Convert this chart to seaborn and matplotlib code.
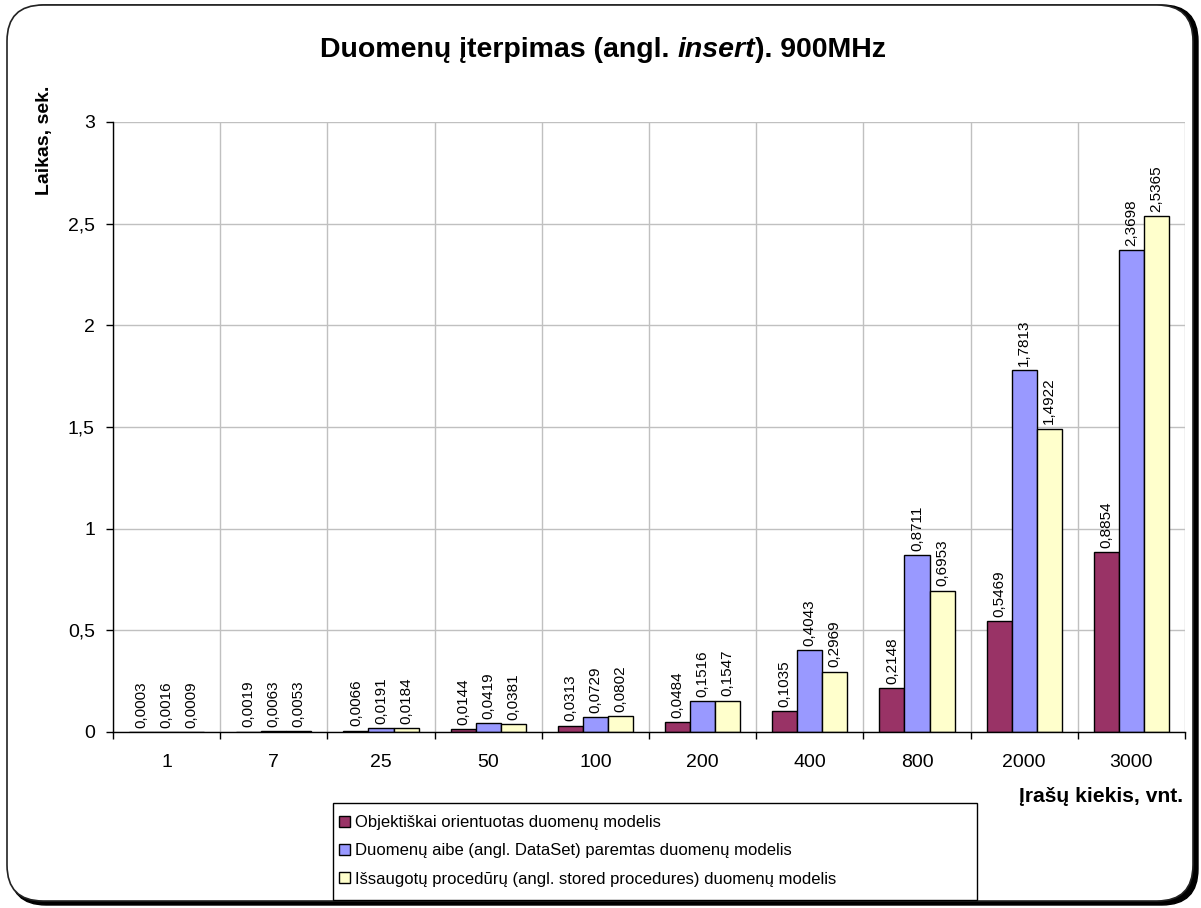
import matplotlib
matplotlib.use("Agg")
import matplotlib.pyplot as plt
from matplotlib.patches import FancyBboxPatch, Patch, Rectangle
from matplotlib.ticker import FixedLocator, FuncFormatter
import seaborn as sns
import pandas as pd

# Record counts (categories)
record_counts = ["1", "7", "25", "50", "100", "200", "400", "800", "2000", "3000"]

# Insert times in seconds for each data model
object_oriented = [0.0003, 0.0019, 0.0066, 0.0144, 0.0313, 0.0484, 0.1035, 0.2148, 0.5469, 0.8854]
dataset_based = [0.0016, 0.0063, 0.0191, 0.0419, 0.0729, 0.1516, 0.4043, 0.8711, 1.7813, 2.3698]
stored_procedures = [0.0009, 0.0053, 0.0184, 0.0381, 0.0802, 0.1547, 0.2969, 0.6953, 1.4922, 2.5365]

series_names = [
    "Objektiškai orientuotas duomenų modelis",
    "Duomenų aibe (angl. DataSet) paremtas duomenų modelis",
    "Išsaugotų procedūrų (angl. stored procedures) duomenų modelis",
]
series_colors = ["#993366", "#9999FF", "#FFFFCC"]

rows = []
for name, values in zip(series_names, [object_oriented, dataset_based, stored_procedures]):
    for cat, v in zip(record_counts, values):
        rows.append({"kiekis": cat, "laikas": v, "modelis": name})
df = pd.DataFrame(rows)

sns.set_theme(style="white")
plt.rcParams["font.family"] = ["Liberation Sans", "DejaVu Sans"]
for key in ["text.color", "axes.labelcolor", "xtick.color", "ytick.color"]:
    plt.rcParams[key] = "black"

W, H = 1201, 908
fig = plt.figure(figsize=(W / 100, H / 100), dpi=100)
fig.patch.set_facecolor("white")

# Rounded chart frame with a drop shadow
shadow = FancyBboxPatch((10 / W, 3 / H), (1188 / W), (900 / H),
                        boxstyle="round,pad=0,rounding_size=0.03",
                        transform=fig.transFigure, facecolor="black",
                        edgecolor="black", linewidth=1, mutation_aspect=W / H, zorder=0)
frame = FancyBboxPatch((7 / W, 7 / H), (1186 / W), (896 / H),
                       boxstyle="round,pad=0,rounding_size=0.03",
                       transform=fig.transFigure, facecolor="white",
                       edgecolor="#222222", linewidth=1.2, mutation_aspect=W / H, zorder=0.1)
# Legend box
legend_box = Rectangle((333 / W, 1 - 900 / H), (977 - 333) / W, (900 - 803) / H,
                       transform=fig.transFigure, facecolor="white",
                       edgecolor="black", linewidth=1, zorder=0.2)
fig.patches.extend([shadow, frame, legend_box])

ax = fig.add_axes([113 / W, 1 - 732 / H, (1185 - 113) / W, (732 - 122) / H])
ax.set_facecolor("none")
ax.set_zorder(2)

sns.barplot(data=df, x="kiekis", y="laikas", hue="modelis", order=record_counts,
            hue_order=series_names, palette=series_colors, width=0.7, gap=0,
            edgecolor="black", linewidth=1, saturation=1, ax=ax, legend=False,
            errorbar=None, zorder=3)

for cont, values in zip(ax.containers, [object_oriented, dataset_based, stored_procedures]):
    ax.bar_label(cont, labels=[f"{v:.4f}".replace(".", ",") for v in values],
                 rotation=90, padding=3, fontsize=11, color="black")

ax.set_xlim(-0.5, len(record_counts) - 0.5)
ax.set_ylim(0, 3)
ax.set_yticks([0, 0.5, 1, 1.5, 2, 2.5, 3])
ax.yaxis.set_major_formatter(FuncFormatter(lambda v, p: f"{v:g}".replace(".", ",")))
ax.xaxis.set_minor_locator(FixedLocator([i - 0.5 for i in range(len(record_counts) + 1)]))

ax.grid(axis="y", which="major", color="#C0C0C0", linewidth=1, zorder=0)
ax.grid(axis="x", which="minor", color="#C0C0C0", linewidth=1, zorder=0)
ax.grid(axis="x", which="major", visible=False)
ax.set_axisbelow(True)

for side in ["top", "right"]:
    ax.spines[side].set_visible(False)
for side in ["left", "bottom"]:
    ax.spines[side].set_color("black")
    ax.spines[side].set_linewidth(1)
    ax.spines[side].set_zorder(4)

ax.tick_params(axis="y", which="major", length=5, width=1, color="black",
               labelsize=14, pad=8, left=True, direction="out")
ax.tick_params(axis="x", which="major", length=0, labelsize=14, pad=16)
ax.tick_params(axis="x", which="minor", length=5, width=1, color="black",
               bottom=True, direction="out")
ax.set_xlabel("")
ax.set_ylabel("")

# Title with an italic word in the middle, laid out piece by piece
title_parts = [("Duomenų įterpimas (angl. ", "normal"), ("insert", "italic"), ("). 900MHz", "normal")]
renderer = fig.canvas.get_renderer()
texts = []
for s, style in title_parts:
    t = fig.text(0, 1 - 50 / H, s, ha="left", va="center", fontsize=20.5,
                 fontweight="bold", fontstyle=style)
    texts.append(t)
widths = [t.get_window_extent(renderer).width for t in texts]
x = 603 - sum(widths) / 2
for t, w in zip(texts, widths):
    t.set_x(x / W)
    x += w

fig.text(45 / W, 1 - 140 / H, "Laikas, sek.", rotation=90, ha="center", va="center",
         fontsize=14, fontweight="bold")
fig.text(1183 / W, 1 - 797 / H, "Įrašų kiekis, vnt.", ha="right", va="center",
         fontsize=15.2, fontweight="bold")

handles = [Patch(facecolor=c, edgecolor="black", linewidth=1) for c in series_colors]
leg = fig.legend(handles, series_names, loc="upper left",
                 bbox_to_anchor=(339 / W, 1 - 815 / H),
                 fontsize=12, frameon=False,
                 handlelength=0.65, handleheight=0.65,
                 handletextpad=0.3, labelspacing=0.8, borderpad=0,
                 borderaxespad=0)
leg.set_zorder(3)

fig.savefig("out.png", dpi=100, facecolor="white")
